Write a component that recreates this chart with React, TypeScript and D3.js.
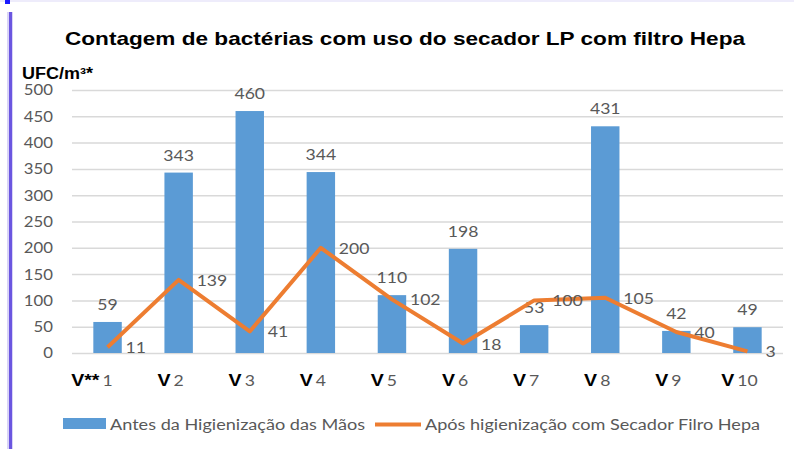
import React, { useEffect, useRef } from 'react';
import * as d3 from 'd3';

const categories = ['1', '2', '3', '4', '5', '6', '7', '8', '9', '10'];
const prefixes = ['V**', 'V', 'V', 'V', 'V', 'V', 'V', 'V', 'V', 'V'];
const antes = [59, 343, 460, 344, 110, 198, 53, 431, 42, 49];
const apos = [11, 139, 41, 200, 102, 18, 100, 105, 40, 3];
const yTicks = [0, 50, 100, 150, 200, 250, 300, 350, 400, 450, 500];
const seriesNames = ['Antes da Higienização das Mãos', 'Após higienização com Secador Filro Hepa'];
const title = 'Contagem de bactérias com uso do secador LP com filtro Hepa';
const yTitle = 'UFC/m³*';

const W = 794;
const H = 449;
const BLUE = '#5B9BD5';
const ORANGE = '#ED7D31';
const GRAY = '#595959';
const LABEL_FONT = 'Lato, "Open Sans", sans-serif';
const BOLD_FONT = 'Liberation Sans, Arial, sans-serif';

// the source picture is a bit wider than tall, so text gets stretched sideways
const stretch = (sel: d3.Selection<SVGTextElement, any, any, any>, k: number) => {
  sel.each(function () {
    const w = this.getComputedTextLength();
    d3.select(this).attr('textLength', w * k).attr('lengthAdjust', 'spacingAndGlyphs');
  });
};

const App: React.FC = () => {
  const ref = useRef<SVGSVGElement>(null);

  useEffect(() => {
    const svg = d3.select(ref.current);
    svg.selectAll('*').remove();

    // page decorations
    svg.append('rect').attr('x', 0).attr('y', 0).attr('width', W).attr('height', 2).attr('fill', '#eeecfb');
    svg.append('rect').attr('x', 5).attr('y', 0).attr('width', 5).attr('height', 4).attr('fill', '#1a1aff');
    svg.append('rect').attr('x', 7).attr('y', 12).attr('width', 6).attr('height', H).attr('fill', '#d9d4f7');
    svg.append('rect').attr('x', 9).attr('y', 12).attr('width', 3).attr('height', H).attr('fill', '#6b56e0');

    const x = d3.scaleBand().domain(categories).range([72, 783]).paddingInner(0.6).paddingOuter(0.3);
    const y = d3.scaleLinear().domain([0, 500]).range([353, 90]);

    // title
    svg.append('text')
      .attr('x', 405).attr('y', 45)
      .attr('text-anchor', 'middle')
      .attr('font-family', BOLD_FONT)
      .attr('font-weight', 'bold')
      .attr('font-size', 18.5)
      .attr('fill', '#000')
      .attr('textLength', 680)
      .attr('lengthAdjust', 'spacingAndGlyphs')
      .text(title);

    svg.append('text')
      .attr('x', 22).attr('y', 79)
      .attr('font-family', BOLD_FONT)
      .attr('font-weight', 'bold')
      .attr('font-size', 16)
      .attr('fill', '#000')
      .attr('textLength', 71)
      .attr('lengthAdjust', 'spacingAndGlyphs')
      .text(yTitle);

    // gridlines + y axis
    const yAxis = svg.append('g')
      .attr('transform', 'translate(72,0)')
      .call(d3.axisLeft(y).tickValues(yTicks).tickSize(-(783 - 72)).tickPadding(19));
    yAxis.select('.domain').remove();
    yAxis.selectAll('.tick line').attr('stroke', '#d9d9d9').attr('stroke-width', 1.5);
    yAxis.selectAll<SVGTextElement, number>('.tick text')
      .attr('fill', GRAY)
      .attr('font-family', LABEL_FONT)
      .attr('font-size', 15.5)
      .call(s => stretch(s, 1.08));

    // bars
    svg.selectAll('.bar')
      .data(antes)
      .enter()
      .append('rect')
      .attr('class', 'bar')
      .attr('x', (d, i) => x(categories[i])!)
      .attr('y', d => y(d))
      .attr('width', x.bandwidth())
      .attr('height', d => y(0) - y(d))
      .attr('fill', BLUE);

    svg.selectAll('.barLabel')
      .data(antes)
      .enter()
      .append('text')
      .attr('class', 'barLabel')
      .attr('x', (d, i) => x(categories[i])! + x.bandwidth() / 2)
      .attr('y', d => y(d) - 12)
      .attr('text-anchor', 'middle')
      .attr('fill', GRAY)
      .attr('font-family', LABEL_FONT)
      .attr('font-size', 16)
      .text(d => d)
      .call(s => stretch(s as any, 1.1));

    // line
    const cx = (i: number) => x(categories[i])! + x.bandwidth() / 2;
    const line = d3.line<number>().x((d, i) => cx(i)).y(d => y(d));
    svg.append('path')
      .datum(apos)
      .attr('d', line)
      .attr('fill', 'none')
      .attr('stroke', ORANGE)
      .attr('stroke-width', 4)
      .attr('stroke-linejoin', 'round');

    svg.selectAll('.lineLabel')
      .data(apos)
      .enter()
      .append('text')
      .attr('class', 'lineLabel')
      .attr('x', (d, i) => cx(i) + 18)
      .attr('y', d => y(d) + 6)
      .attr('fill', GRAY)
      .attr('font-family', LABEL_FONT)
      .attr('font-size', 16)
      .text(d => d)
      .call(s => stretch(s as any, 1.1));

    // x labels: gray number centered, bold prefix to its left
    categories.forEach((c, i) => {
      const num = svg.append('text')
        .attr('x', cx(i)).attr('y', 386)
        .attr('text-anchor', 'middle')
        .attr('fill', GRAY)
        .attr('font-family', LABEL_FONT)
        .attr('font-size', 16)
        .text(c);
      const w = (num.node() as SVGTextElement).getComputedTextLength() * 1.1;
      stretch(num as any, 1.1);
      const pre = svg.append('text')
        .attr('x', cx(i) - w / 2 - 3).attr('y', 386)
        .attr('text-anchor', 'end')
        .attr('fill', '#000')
        .attr('font-family', BOLD_FONT)
        .attr('font-weight', 'bold')
        .attr('font-size', 17)
        .text(prefixes[i]);
      stretch(pre as any, 1.15);
    });

    // legend
    svg.append('rect').attr('x', 63).attr('y', 418).attr('width', 43).attr('height', 11).attr('fill', BLUE);
    svg.append('text')
      .attr('x', 110).attr('y', 430)
      .attr('fill', GRAY)
      .attr('font-family', LABEL_FONT)
      .attr('font-size', 15.5)
      .attr('textLength', 255)
      .attr('lengthAdjust', 'spacingAndGlyphs')
      .text(seriesNames[0]);
    svg.append('line')
      .attr('x1', 375).attr('x2', 421).attr('y1', 424.5).attr('y2', 424.5)
      .attr('stroke', ORANGE).attr('stroke-width', 4);
    svg.append('text')
      .attr('x', 425).attr('y', 430)
      .attr('fill', GRAY)
      .attr('font-family', LABEL_FONT)
      .attr('font-size', 15.5)
      .attr('textLength', 335)
      .attr('lengthAdjust', 'spacingAndGlyphs')
      .text(seriesNames[1]);
  }, []);

  return (
    <svg
      ref={ref}
      width={W}
      height={H}
      style={{ position: 'absolute', left: 0, top: 0, background: '#fff' }}
    />
  );
};

export default App;
